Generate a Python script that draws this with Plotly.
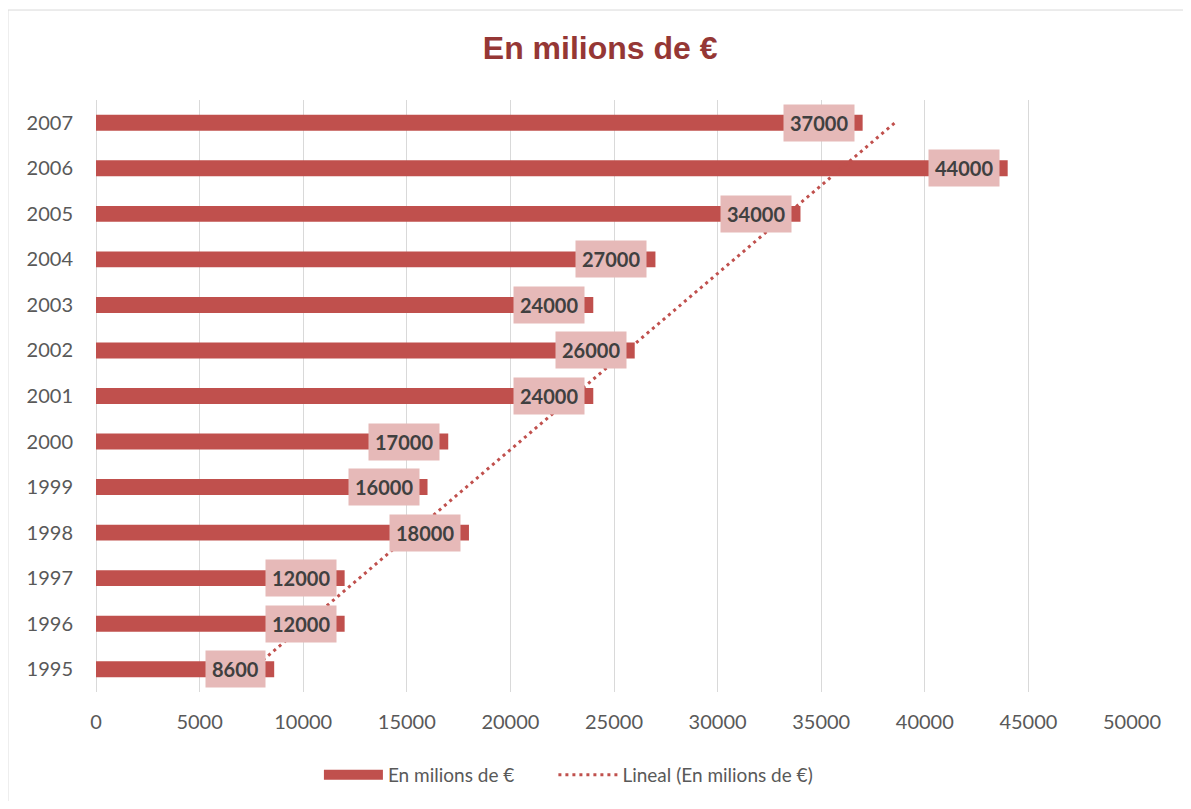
import numpy as np
import plotly.graph_objects as go

# data
years = ['1995', '1996', '1997', '1998', '1999', '2000', '2001',
         '2002', '2003', '2004', '2005', '2006', '2007']
values = [8600, 12000, 12000, 18000, 16000, 17000, 24000,
          26000, 24000, 27000, 34000, 44000, 37000]
xticks = [0, 5000, 10000, 15000, 20000, 25000, 30000, 35000, 40000, 45000, 50000]

seriesName = 'En milions de €'
trendName = 'Lineal (En milions de €)'

barColor = '#C0504D'
labelBg = '#E6B9B8'
fontFam = 'Lato, Open Sans, sans-serif'

# linear trendline like excel (index 1..n)
idx = np.arange(1, len(values) + 1)
slope, inter = np.polyfit(idx, values, 1)
trend = [slope * i + inter for i in idx]

fig = go.Figure()
fig.add_trace(go.Bar(x=values, y=years, orientation='h', width=0.35,
                     marker={'color': barColor, 'line': {'width': 0}},
                     name=seriesName, showlegend=False))
fig.add_trace(go.Scatter(x=trend, y=years, mode='lines', name=trendName,
                         line={'color': barColor, 'width': 3, 'dash': '3px,4px'},
                         showlegend=False))
# legend entries (a wide block for the bar series, as in excel)
# nbsp padding widens the gap between the two entries
fig.add_trace(go.Scatter(x=[None], y=[None], mode='lines',
                         name=seriesName + '\u00a0' * 7,
                         line={'color': barColor, 'width': 14}))
fig.add_trace(go.Scatter(x=[None], y=[None], mode='lines', name=trendName,
                         line={'color': barColor, 'width': 3, 'dash': '3px,4px'}))

# data labels in pink boxes
# (y given as category index: numeric-looking names would be read as positions)
for i, v in enumerate(values):
    fig.add_annotation(x=v, y=i, xref='x', yref='y', text='<b>%d</b>' % v,
                       showarrow=False, xanchor='right', yanchor='middle',
                       xshift=-8, bgcolor=labelBg, borderpad=6,
                       font={'family': fontFam, 'size': 20, 'color': '#404040'})

# chart border
fig.add_shape(type='rect', xref='paper', yref='paper',
              x0=-0.085, y0=-0.35, x1=1.2, y1=1.152,
              line={'color': '#D9D9D9', 'width': 1}, layer='below')

# page body has an 8px margin, so the figure is a bit smaller than the window
fig.update_layout(
    width=1175, height=793,
    margin=dict(l=88, r=51, t=92, b=109, autoexpand=False),
    paper_bgcolor='white', plot_bgcolor='white',
    font={'family': fontFam, 'size': 20, 'color': '#595959'},
    title={'text': '<b>En milions de €</b>', 'x': 0.504, 'xref': 'container',
           'xanchor': 'center', 'y': 0.9496, 'yanchor': 'middle',
           'font': {'family': 'Liberation Sans, Arial, sans-serif', 'size': 32,
                    'color': '#953735'}},
    legend={'orientation': 'h', 'x': 0.456, 'xanchor': 'center', 'y': -0.14,
            'yanchor': 'middle', 'itemwidth': 59,
            'font': {'family': fontFam, 'size': 19, 'color': '#595959'}},
)
fig.update_xaxes(range=[0, 50000], tickvals=xticks, tickformat='d', showgrid=True,
                 gridcolor='#D9D9D9', gridwidth=1, zeroline=True,
                 zerolinecolor='#D9D9D9', zerolinewidth=1, showline=False,
                 ticks='', ticklabelstandoff=16,
                 tickfont={'size': 20, 'color': '#595959'})
fig.update_yaxes(type='category', categoryorder='array', categoryarray=years,
                 range=[-0.5, len(years) - 0.5],
                 showgrid=False, zeroline=False, showline=False, ticks='',
                 ticklabelstandoff=22, tickfont={'size': 20, 'color': '#595959'})

fig.write_html("out.html")
